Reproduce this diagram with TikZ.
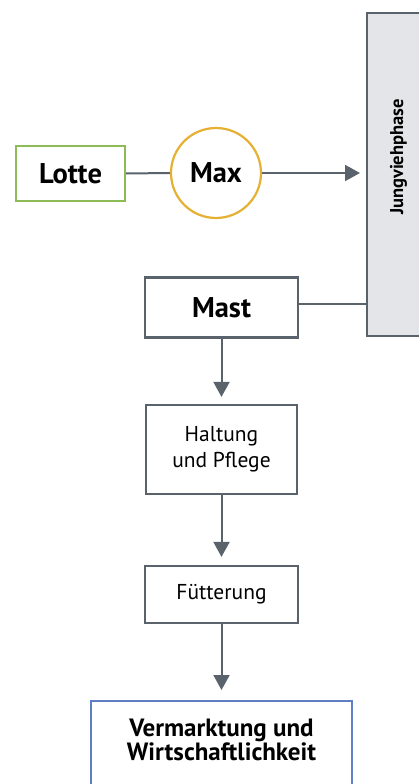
\documentclass[tikz,border=0pt]{standalone}
\usepackage{fontspec}
\setmainfont{PT Sans}
\usetikzlibrary{arrows.meta,positioning,calc}
\definecolor{linegray}{HTML}{5A636C}
\definecolor{lottegreen}{HTML}{8DBB55}
\definecolor{maxyellow}{HTML}{E6B032}
\definecolor{vermblue}{HTML}{5F7EC3}
\definecolor{jungfill}{HTML}{E3E5E8}
\tikzset{
  x=1pt,y=-1pt,
  box/.style={draw=linegray,line width=2.2pt,fill=white,inner sep=0pt,align=center},
  conn/.style={draw=linegray,line width=2pt},
  arr/.style={conn,-{Triangle[length=15pt,width=16pt]}},
  bigbold/.style={font=\fontsize{28.5}{31}\selectfont\bfseries},
  regtext/.style={font=\fontsize{21.5}{26}\selectfont},
}
\begin{document}
\begin{tikzpicture}
\useasboundingbox (0,0) rectangle (419,784);
\clip (0,0) rectangle (419,784);
% Jungviehphase
\node[box,fill=jungfill,minimum width=70,minimum height=323,anchor=north west] (jung) at (366,12) {};
\node[rotate=90,font=\fontsize{18.5}{20}\selectfont\bfseries] (jungtxt) at (398.5,157) {Jungviehphase};
% top row
\node[box,draw=lottegreen,minimum width=109,minimum height=55,bigbold] (lotte) at (70.5,173.5) {Lotte};
\node[box,draw=maxyellow,circle,minimum size=90,bigbold] (max) at (216,173) {Max};
\draw[conn] (lotte.east) -- (max.west);
\draw[arr,shorten >=6pt] (max.east) -- (max.east -| jung.west);
% Mast
\node[box,minimum width=153,minimum height=60,bigbold] (mast) at (221.5,307.5) {Mast};
\draw[conn] ([yshift=3.5]mast.east) -- ([yshift=3.5]mast.east -| jung.west);
% Haltung
\node[box,minimum width=151,minimum height=89,regtext] (haltung) at (221.5,449.5) {Haltung\\und Pflege};
\draw[arr,shorten >=7pt] (mast.south) -- (haltung.north);
% Fütterung
\node[box,minimum width=153,minimum height=57,regtext] (fuett) at (221.5,594.5) {Fütterung};
\draw[arr,shorten >=8pt] (haltung.south) -- (fuett.north);
% Vermarktung
\node[box,draw=vermblue,minimum width=261,minimum height=100,anchor=north] (verm) at (221.5,700) {};
\node[font=\fontsize{25}{24.5}\selectfont\bfseries,align=center,inner sep=0pt] (vermtxt) at (221.5,740) {Vermarktung und\\Wirtschaftlichkeit};
\draw[arr,shorten >=10pt] (fuett.south) -- (verm.north);
\end{tikzpicture}
\end{document}
